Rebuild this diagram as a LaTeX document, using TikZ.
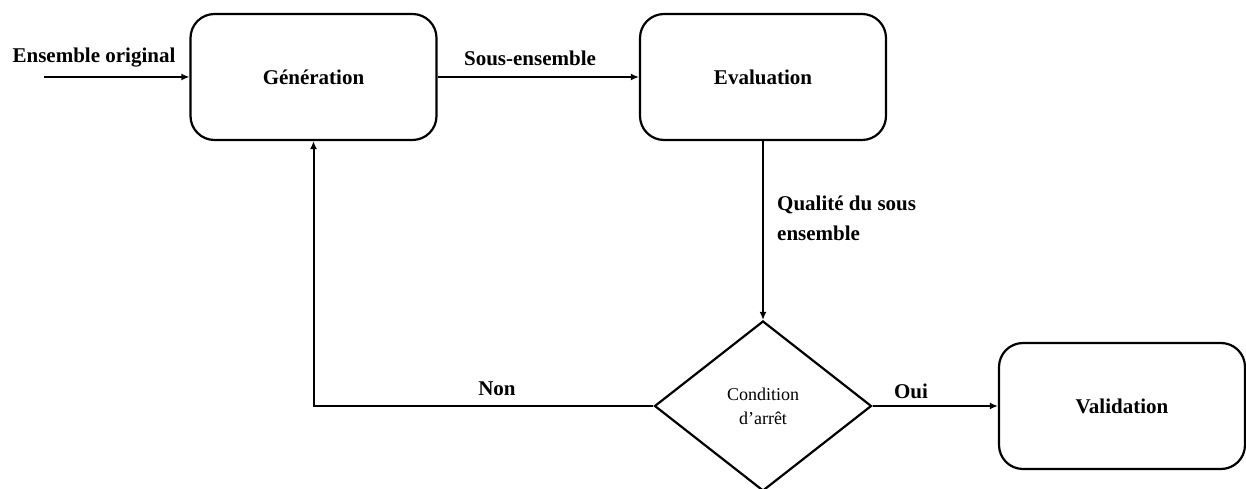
\documentclass[tikz,border=0pt]{standalone}
\usepackage{fontspec}
\setmainfont{Liberation Serif}
\usetikzlibrary{arrows.meta,shapes.geometric}

\begin{document}
\begin{tikzpicture}[x=1pt,y=1pt,
  bloc/.style={draw,line width=2.2pt,rounded corners=24pt,minimum width=246pt,minimum height=126pt,font=\fontsize{21}{24}\selectfont\bfseries},
  test/.style={draw,line width=2.2pt,diamond,minimum width=217pt,minimum height=170pt,inner sep=0pt,align=center,font=\fontsize{18}{24}\selectfont},
  lien/.style={line width=2pt,-{Latex[length=8pt,width=7pt]}},
  etiq/.style={font=\fontsize{21}{30}\selectfont\bfseries,inner sep=0pt}]
\useasboundingbox (0,0) rectangle (1246,489);
%\draw[step=50pt,gray,very thin] (0,0) grid (1246,489); %background grid
\node[bloc] (gen) at (313.5,412) {Génération};
\node[bloc] (eval) at (763,412) {Evaluation};
\node[test] (cond) at (763,83) {Condition\\d’arrêt};
\node[bloc] (valid) at (1122,83) {Validation};
\coordinate (entree) at (44,412);
\draw[lien] (entree) -- (gen.west);
\draw[lien] (gen.east) -- (eval.west);
\draw[lien] (eval.south) -- (cond.north);
\draw[lien] (cond.west) -| (gen.south);
\draw[lien] (cond.east) -- (valid.west);
\node[etiq] (l1) at (94,431) {Ensemble original};
\node[etiq] (l2) at (530,431) {Sous-ensemble};
\node[etiq,anchor=north west,align=left] (l3) at (777,293) {Qualité du sous\\ensemble};
\node[etiq] (l4) at (497,100) {Non};
\node[etiq] (l5) at (911,98) {Oui};
\end{tikzpicture}
\end{document}
